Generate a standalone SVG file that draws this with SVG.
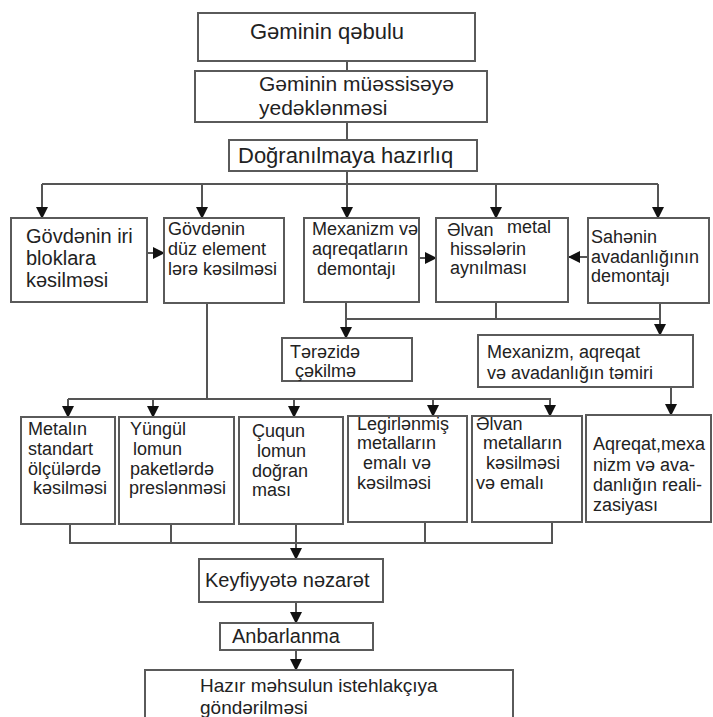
<svg xmlns="http://www.w3.org/2000/svg" width="713" height="717" viewBox="0 0 713 717">
<style>
.box{fill:#fff;stroke:#5a5a5a;stroke-width:2}
.ln{fill:none;stroke:#555;stroke-width:2}
.ar{fill:none;stroke:#555;stroke-width:2;marker-end:url(#ah)}
text{font-family:"Liberation Sans",Arial,sans-serif;fill:#222}
.f22{font-size:22px}.f21{font-size:21px}.f20{font-size:20px}.f19{font-size:19px}.f18{font-size:18px}
</style>
<defs>
<marker id="ah" markerWidth="12" markerHeight="12" refX="11" refY="6" orient="auto" markerUnits="userSpaceOnUse">
<path d="M0,0 L12,6 L0,12 z" fill="#111"/>
</marker>
</defs>
<rect width="713" height="717" fill="#fff"/>
<g id="connectors">
<line class="ln" x1="347" y1="61" x2="347" y2="71"/>
<line class="ln" x1="347" y1="122" x2="347" y2="140"/>
<line class="ar" x1="347" y1="171" x2="347" y2="218"/>
<polyline class="ln" points="42,184 658,184"/>
<line class="ar" x1="42" y1="184" x2="42" y2="218"/>
<line class="ar" x1="202" y1="184" x2="202" y2="218"/>
<line class="ar" x1="496" y1="184" x2="496" y2="218"/>
<line class="ar" x1="658" y1="184" x2="658" y2="218"/>
<line class="ar" x1="147" y1="253" x2="164" y2="253"/>
<line class="ar" x1="419" y1="258" x2="436" y2="258"/>
<line class="ar" x1="588" y1="257" x2="569" y2="257"/>
<line class="ar" x1="346" y1="302" x2="346" y2="338"/>
<polyline class="ln" points="346,319 660,319"/>
<line class="ln" x1="496" y1="302" x2="496" y2="319"/>
<line class="ar" x1="660" y1="303" x2="660" y2="335"/>
<line class="ar" x1="671" y1="387" x2="671" y2="415"/>
<line class="ln" x1="207" y1="303" x2="207" y2="399"/>
<polyline class="ln" points="68,399 551,399"/>
<line class="ar" x1="68" y1="399" x2="68" y2="417"/>
<line class="ar" x1="153" y1="399" x2="153" y2="417"/>
<line class="ar" x1="294" y1="399" x2="294" y2="417"/>
<line class="ar" x1="433" y1="399" x2="433" y2="416"/>
<line class="ar" x1="550" y1="399" x2="550" y2="416"/>
<polyline class="ln" points="70,524 70,543 552,543 552,522"/>
<line class="ln" x1="171" y1="524" x2="171" y2="543"/>
<line class="ln" x1="425" y1="522" x2="425" y2="543"/>
<line class="ln" x1="296" y1="524" x2="296" y2="543"/>
<line class="ar" x1="296" y1="543" x2="296" y2="559"/>
<line class="ar" x1="296" y1="602" x2="296" y2="623"/>
<line class="ar" x1="296" y1="650" x2="296" y2="670"/>
</g>
<g id="n1"><rect class="box" x="198" y="13" width="277" height="48"/><text class="f22" x="250" y="39">Gəminin qəbulu</text></g>
<g id="n2"><rect class="box" x="195" y="71" width="292" height="51"/><text class="f21" x="259" y="91">Gəminin müəssisəyə</text><text class="f21" x="259" y="115">yedəklənməsi</text></g>
<g id="n3"><rect class="box" x="229" y="140" width="248" height="31"/><text class="f22" x="238" y="163">Doğranılmaya hazırlıq</text></g>
<g id="n4"><rect class="box" x="11" y="218" width="136" height="84"/><text class="f20" x="26" y="243">Gövdənin iri</text><text class="f20" x="26" y="265">bloklara</text><text class="f20" x="26" y="287">kəsilməsi</text></g>
<g id="n5"><rect class="box" x="164" y="218" width="120" height="85"/><text class="f18" x="168" y="235">Gövdənin</text><text class="f18" x="168" y="255">düz element</text><text class="f18" x="168" y="275">lərə kəsilməsi</text></g>
<g id="n6"><rect class="box" x="304" y="218" width="115" height="84"/><text class="f18" x="312" y="235">Mexanizm və</text><text class="f18" x="312" y="255">aqreqatların</text><text class="f18" x="317" y="275">demontajı</text></g>
<g id="n7"><rect class="box" x="436" y="218" width="132" height="84"/><text class="f18" x="447" y="236">Əlvan</text><text class="f18" x="507" y="233">metal</text><text class="f18" x="450" y="255">hissələrin</text><text class="f18" x="450" y="274">aynılması</text></g>
<g id="n8"><rect class="box" x="588" y="218" width="121" height="85"/><text class="f18" x="591" y="243">Sahənin</text><text class="f18" x="591" y="263">avadanlığının</text><text class="f18" x="591" y="282">demontajı</text></g>
<g id="n9"><rect class="box" x="282" y="338" width="130" height="43"/><text class="f18" x="290" y="358">Tərəzidə</text><text class="f18" x="295" y="377">çəkilmə</text></g>
<g id="n10"><rect class="box" x="478" y="335" width="215" height="52"/><text class="f18" x="487" y="358">Mexanizm, aqreqat</text><text class="f18" x="487" y="379">və avadanlığın təmiri</text></g>
<g id="n11"><rect class="box" x="21" y="417" width="94" height="107"/><text class="f18" x="28" y="435">Metalın</text><text class="f18" x="28" y="455">standart</text><text class="f18" x="28" y="475">ölçülərdə</text><text class="f18" x="33" y="494">kəsilməsi</text></g>
<g id="n12"><rect class="box" x="119" y="417" width="115" height="107"/><text class="f18" x="130" y="435">Yüngül</text><text class="f18" x="133" y="455">lomun</text><text class="f18" x="130" y="475">paketlərdə</text><text class="f18" x="129" y="494">preslənməsi</text></g>
<g id="n13"><rect class="box" x="239" y="417" width="104" height="107"/><text class="f18" x="252" y="437">Çuqun</text><text class="f18" x="257" y="457">lomun</text><text class="f18" x="252" y="477">doğran</text><text class="f18" x="252" y="496">ması</text></g>
<g id="n14"><rect class="box" x="348" y="416" width="119" height="106"/><text class="f18" x="357" y="430">Legirlənmiş</text><text class="f18" x="357" y="449">metalların</text><text class="f18" x="363" y="469">emalı və</text><text class="f18" x="357" y="489">kəsilməsi</text></g>
<g id="n15"><rect class="box" x="472" y="416" width="110" height="106"/><text class="f18" x="476" y="430">Əlvan</text><text class="f18" x="483" y="449">metalların</text><text class="f18" x="486" y="469">kəsilməsi</text><text class="f18" x="476" y="489">və emalı</text></g>
<g id="n16"><rect class="box" x="586" y="415" width="125" height="107"/><text class="f18" x="593" y="450">Aqreqat,mexa</text><text class="f18" x="593" y="471">nizm və ava-</text><text class="f18" x="593" y="491">danlığın reali-</text><text class="f18" x="593" y="511">zasiyası</text></g>
<g id="n17"><rect class="box" x="199" y="559" width="184" height="43"/><text class="f20" x="205" y="587">Keyfiyyətə nəzarət</text></g>
<g id="n18"><rect class="box" x="220" y="623" width="153" height="27"/><text class="f20" x="232" y="643">Anbarlanma</text></g>
<g id="n19"><rect class="box" x="145" y="670" width="368" height="60"/><text class="f19" x="200" y="692">Hazır məhsulun istehlakçıya</text><text class="f19" x="200" y="714">göndərilməsi</text></g>
</svg>
